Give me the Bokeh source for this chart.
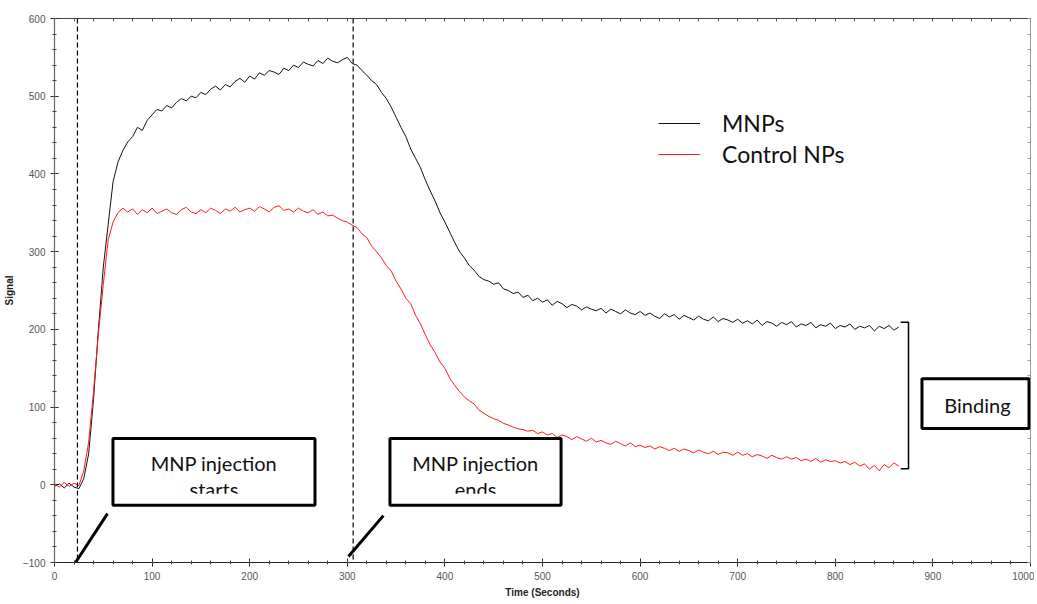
from bokeh.plotting import figure
from bokeh.models import (Range1d, LinearAxis, SingleIntervalTicker, FixedTicker, Span,
                          BoxAnnotation, Label, Legend, LegendItem)
from bokeh.embed import file_html
from bokeh.resources import INLINE

# ---------------- data (5 s sampling) ----------------
STEP_S = 5
mnps_signal = [
    -2, 1, -4, 2, -3, -5, 8, 40, 110, 200,
    280, 335, 390, 415, 430, 441, 448, 460, 456, 469,
    476, 483, 481, 488, 485, 492, 497, 494, 500, 498,
    505, 502, 509, 513, 508, 515, 512, 519, 523, 518,
    526, 522, 530, 527, 533, 531, 528, 536, 533, 540,
    537, 544, 541, 539, 546, 542, 549, 545, 543, 547,
    550, 542, 540, 533, 527, 520, 515, 505, 497, 486,
    473, 460, 448, 432, 420, 408, 392, 378, 365, 350,
    338, 325, 312, 300, 292, 282, 276, 268, 264, 262,
    258, 260, 252, 250, 246, 248, 241, 244, 237, 240,
    235, 238, 231, 236, 233, 228, 232, 230, 225, 229,
    226, 224, 227, 221, 226, 223, 220, 225, 221, 219,
    223, 218, 221, 217, 214, 220, 216, 219, 213, 218,
    215, 212, 217, 213, 211, 216, 210, 214, 212, 209,
    213, 208, 211, 207, 212, 205, 210, 208, 204, 209,
    206, 210, 203, 207, 205, 209, 202, 206, 204, 208,
    201, 205, 203, 207, 200, 204, 202, 205, 198, 204,
    201, 205, 199, 203,
]
control_signal = [
    1, -3, 3, -2, 2, -1, 18, 55, 120, 195,
    258, 315, 338, 350, 356, 351, 355, 348, 354, 350,
    356, 349, 352, 355, 350, 348, 354, 357, 351, 349,
    354, 350, 356, 353, 349, 355, 352, 357, 351, 354,
    356, 352, 358, 355, 351, 357, 359, 353, 355, 351,
    356, 352, 350, 354, 348, 351, 346, 347, 343, 340,
    338, 334, 331, 323, 318, 307, 300, 292, 282, 275,
    262, 252, 240, 233, 218, 207, 193, 180, 170, 158,
    150, 137, 128, 120, 113, 108, 104, 96, 92, 88,
    85, 83, 79, 77, 74, 72, 71, 69, 70, 66,
    68, 64, 66, 61, 64, 62, 58, 62, 59, 56,
    60, 55, 57, 54, 52, 56, 53, 50, 54, 49,
    51, 48, 50, 46, 49, 47, 44, 47, 43, 46,
    44, 41, 45, 42, 40, 43, 39, 42, 41, 38,
    42, 38, 40, 36, 39, 37, 34, 38, 35, 33,
    36, 33, 35, 31, 33, 30, 34, 29, 32, 30,
    31, 28, 30, 26, 29, 24, 27, 20, 25, 18,
    26, 22, 28, 24,
]
mnps_time = [STEP_S * i for i in range(len(mnps_signal))]
control_time = [STEP_S * i for i in range(len(control_signal))]

series_names = ["MNPs", "Control NPs"]
event_times = [23.5, 306]          # injection start / end (dashed lines)
x_label = "Time (Seconds)"
y_label = "Signal"

# annotation geometry (data units)
boxes = [  # left, right, top, bottom, line1, line2
    (59.9, 266.9, 59.6, -26.3, "MNP injection", "starts"),
    (343.7, 519.0, 59.6, -26.3, "MNP injection", "ends"),
]
line1_y = 27.5
line2_y = -5.5
clip_top = -11.5
binding_box = (888.8, 998.5, 136.5, 72.4, "Binding")
binding_text_y = 102.5
pointer_x0 = [21.5, 301.2]
pointer_y0 = [-100, -92.3]
pointer_x1 = [54.3, 337.0]
pointer_y1 = [-37.2, -39.7]
bracket_x = [867, 875, 875, 867]
bracket_y = [209, 209, 20.5, 20.5]

FONT = "Lato"
AXFONT = "Liberation Sans"

p = figure(width=1034, height=600, output_backend="svg", toolbar_location=None,
           x_range=Range1d(0, 1000), y_range=Range1d(-100, 600),
           min_border_left=54, min_border_right=4, min_border_top=18,
           min_border_bottom=36, background_fill_color="white",
           border_fill_color="white", outline_line_color=None)
p.grid.visible = False

xt = SingleIntervalTicker(interval=100, num_minor_ticks=5)
yt = SingleIntervalTicker(interval=100, num_minor_ticks=5)

for ax, tk, col in ((p.xaxis[0], xt, "#222222"), (p.yaxis[0], yt, "#666666")):
    ax.ticker = tk
    ax.axis_line_color = col
    ax.axis_line_width = 1.2
    ax.major_tick_line_color = "#222222"
    ax.minor_tick_line_color = "#444444"
    ax.major_tick_in = 4
    ax.major_tick_out = 4
    ax.minor_tick_in = 2
    ax.minor_tick_out = 2
    ax.major_label_standoff = 5
    ax.major_label_text_font = AXFONT
    ax.major_label_text_font_size = "10px"
    ax.major_label_text_color = "#555555"
    ax.axis_label_text_font = AXFONT
    ax.axis_label_text_font_style = "bold"
    ax.axis_label_text_font_size = "10px"
    ax.axis_label_text_color = "#222222"

p.xaxis[0].axis_label = x_label
p.xaxis[0].axis_label_standoff = 4
p.yaxis[0].axis_label = y_label
p.yaxis[0].axis_label_standoff = 5

frame_minor = list(range(0, 1001, 20))
frame_minor_y = list(range(-100, 601, 20))
top_ax = LinearAxis(ticker=FixedTicker(ticks=[], minor_ticks=frame_minor),
                    minor_tick_in=3, minor_tick_out=0,
                    axis_line_color="#444444", minor_tick_line_color="#555555")
right_ax = LinearAxis(ticker=FixedTicker(ticks=[], minor_ticks=frame_minor_y),
                      minor_tick_in=3, minor_tick_out=0,
                      axis_line_color="#999999", minor_tick_line_color="#999999")
p.add_layout(top_ax, "above")
p.add_layout(right_ax, "right")

r_m = p.line(mnps_time, mnps_signal, line_color="#111111", line_width=1)
r_c = p.line(control_time, control_signal, line_color="#ff1a1a", line_width=1)

for t in event_times:
    p.add_layout(Span(location=t, dimension="height", line_color="black",
                      line_width=1.2, line_dash="5 3"))

# pointer lines and binding bracket
p.segment(x0=pointer_x0, y0=pointer_y0, x1=pointer_x1, y1=pointer_y1,
          line_color="black", line_width=3)
p.line(bracket_x, bracket_y, line_color="black", line_width=1.5)

# annotation boxes
for (l, r, t, b, line1, line2) in boxes:
    p.add_layout(BoxAnnotation(left=l, right=r, top=t, bottom=b,
                               fill_color="white", fill_alpha=1, line_alpha=0))
    cx = (l + r) / 2
    p.add_layout(Label(x=cx, y=line1_y, text=line1, text_align="center",
                       text_baseline="alphabetic", text_font=FONT,
                       text_font_size="20px", text_color="#111111"))
    p.add_layout(Label(x=cx, y=line2_y, text=line2, text_align="center",
                       text_baseline="alphabetic", text_font=FONT,
                       text_font_size="20px", text_color="#111111"))
    # clip the overflowing second line like the original text box
    p.add_layout(BoxAnnotation(left=l + 2, right=r - 2, top=clip_top, bottom=b,
                               fill_color="white", fill_alpha=1, line_alpha=0))
    p.add_layout(BoxAnnotation(left=l, right=r, top=t, bottom=b, fill_alpha=0,
                               line_color="black", line_alpha=1, line_width=3))

bl, br, bt, bb, btxt = binding_box
p.add_layout(BoxAnnotation(left=bl, right=br, top=bt, bottom=bb,
                           fill_color="white", fill_alpha=1,
                           line_color="black", line_alpha=1, line_width=3))
p.add_layout(Label(x=(bl + br) / 2 + 2, y=binding_text_y, text=btxt, text_align="center",
                   text_baseline="alphabetic", text_font=FONT,
                   text_font_size="20px", text_color="#111111"))

legend = Legend(items=[LegendItem(label=series_names[0], renderers=[r_m]),
                       LegendItem(label=series_names[1], renderers=[r_c])],
                location=(604, 394), border_line_color=None,
                background_fill_alpha=0, padding=0, margin=0, spacing=3,
                glyph_width=42, glyph_height=28, label_height=28,
                label_standoff=22, label_text_font=FONT,
                label_text_font_size="23px", label_text_color="#111111")
p.add_layout(legend)

open("out.html", "w").write(file_html(p, INLINE))
